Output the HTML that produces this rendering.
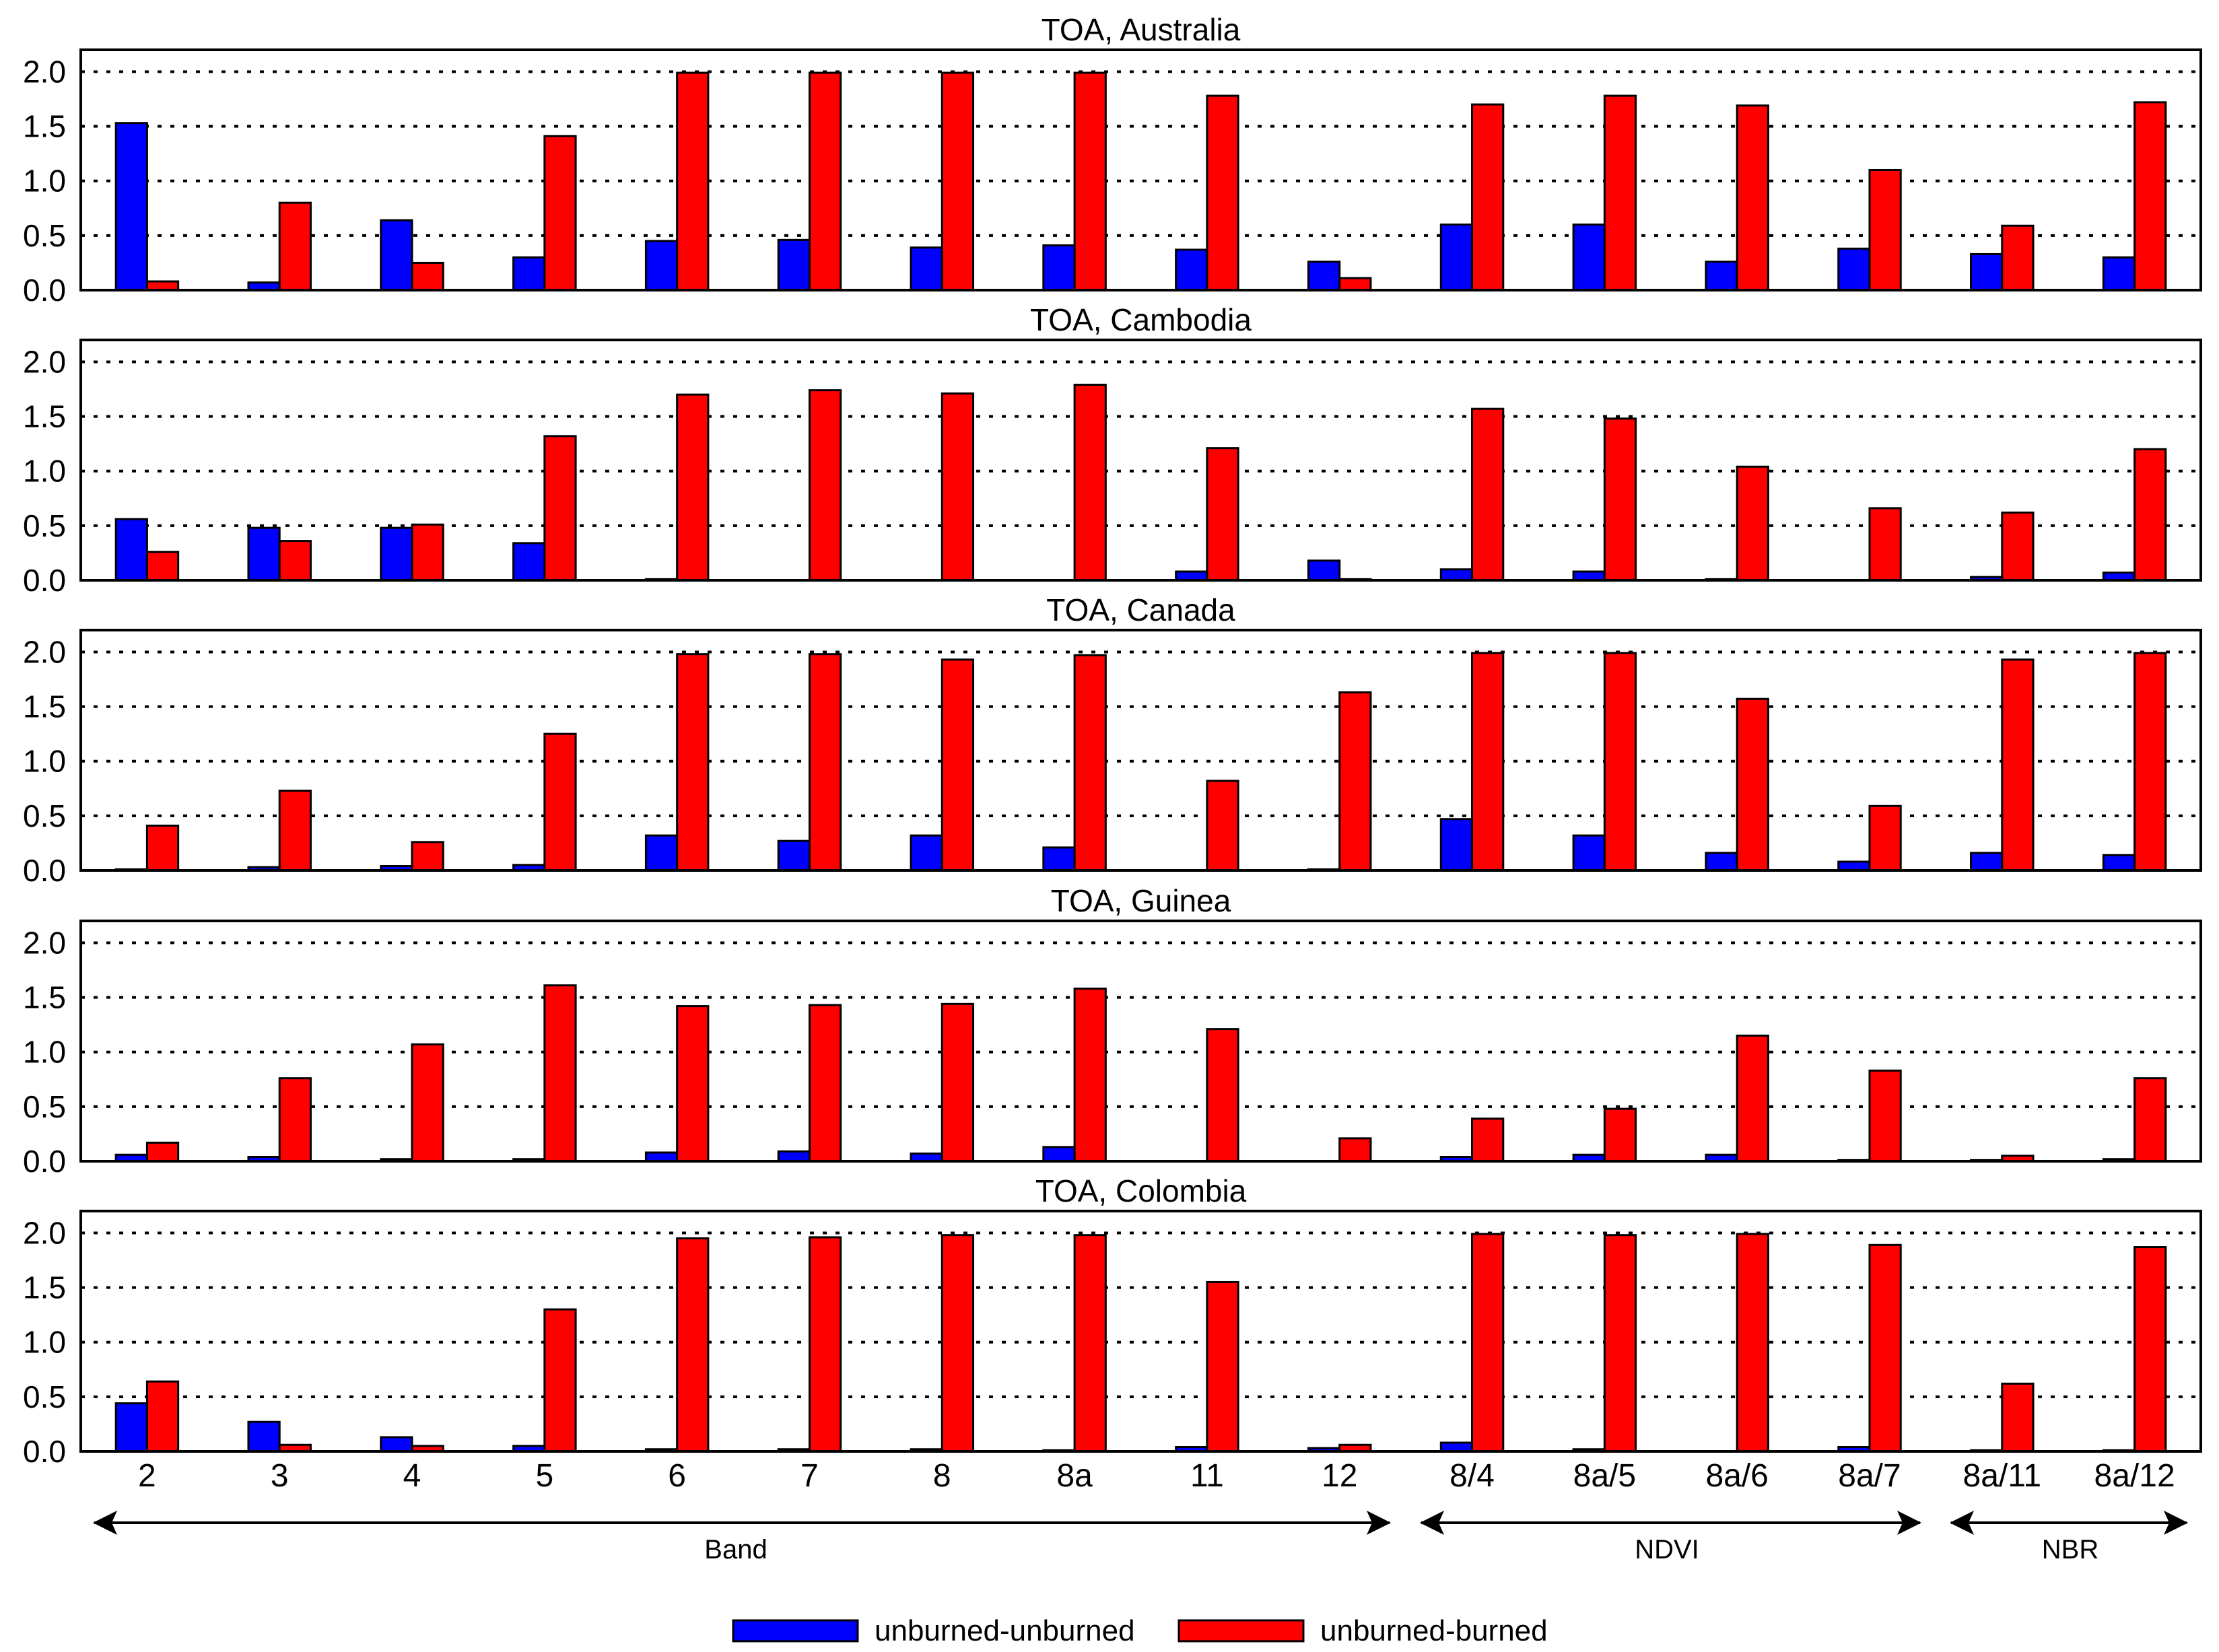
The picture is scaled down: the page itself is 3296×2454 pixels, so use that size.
<!DOCTYPE html>
<html><head><meta charset="utf-8"><style>
html,body{margin:0;padding:0;background:#fff;}
svg{display:block;font-family:"Liberation Sans",sans-serif;}
</style></head><body>
<svg id="chart" width="3296" height="2454" viewBox="0 0 3296 2454" xmlns="http://www.w3.org/2000/svg">
<defs>
<marker id="arr" viewBox="0 0 36 36" refX="34" refY="18" markerWidth="36" markerHeight="36" orient="auto-start-reverse" markerUnits="userSpaceOnUse"><path d="M0,0 L36,18 L0,36 L8,18 Z" fill="#000"/></marker>
</defs>
<g id="panels"></g>
<g id="xlabels"></g>
<g>
<line x1="140" y1="2262" x2="2064" y2="2262" stroke="#000" stroke-width="4" marker-start="url(#arr)" marker-end="url(#arr)"/>
<text x="1093" y="2315" font-size="40" text-anchor="middle">Band</text>
<line x1="2111" y1="2262" x2="2852" y2="2262" stroke="#000" stroke-width="4" marker-start="url(#arr)" marker-end="url(#arr)"/>
<text x="2476" y="2315" font-size="40" text-anchor="middle">NDVI</text>
<line x1="2898" y1="2262" x2="3248" y2="2262" stroke="#000" stroke-width="4" marker-start="url(#arr)" marker-end="url(#arr)"/>
<text x="3075" y="2315" font-size="40" text-anchor="middle">NBR</text>
</g>
<g>
<rect x="1089" y="2407" width="185" height="31" fill="#0000ff" stroke="#000" stroke-width="3"/>
<text x="1299" y="2437" font-size="44">unburned-unburned</text>
<rect x="1751" y="2407" width="185" height="31" fill="#ff0000" stroke="#000" stroke-width="3"/>
<text x="1961" y="2437" font-size="44">unburned-burned</text>
</g>
</svg>
<script>
const categories = ["2","3","4","5","6","7","8","8a","11","12","8/4","8a/5","8a/6","8a/7","8a/11","8a/12"];
const panelTitles = ["TOA, Australia","TOA, Cambodia","TOA, Canada","TOA, Guinea","TOA, Colombia"];
const yTicks = [0,0.5,1.0,1.5,2.0];
const australiaUU = [1.53,0.07,0.64,0.30,0.45,0.46,0.39,0.41,0.37,0.26,0.60,0.60,0.26,0.38,0.33,0.30];
const australiaUB = [0.08,0.80,0.25,1.41,1.99,1.99,1.99,1.99,1.78,0.11,1.70,1.78,1.69,1.10,0.59,1.72];
const cambodiaUU = [0.56,0.48,0.48,0.34,0.01,0.0,0.0,0.0,0.08,0.18,0.10,0.08,0.01,0.0,0.03,0.07];
const cambodiaUB = [0.26,0.36,0.51,1.32,1.70,1.74,1.71,1.79,1.21,0.01,1.57,1.48,1.04,0.66,0.62,1.20];
const canadaUU = [0.01,0.03,0.04,0.05,0.32,0.27,0.32,0.21,0.0,0.01,0.47,0.32,0.16,0.08,0.16,0.14];
const canadaUB = [0.41,0.73,0.26,1.25,1.98,1.98,1.93,1.97,0.82,1.63,1.99,1.99,1.57,0.59,1.93,1.99];
const guineaUU = [0.06,0.04,0.02,0.02,0.08,0.09,0.07,0.13,0.0,0.0,0.04,0.06,0.06,0.01,0.01,0.02];
const guineaUB = [0.17,0.76,1.07,1.61,1.42,1.43,1.44,1.58,1.21,0.21,0.39,0.48,1.15,0.83,0.05,0.76];
const colombiaUU = [0.44,0.27,0.13,0.05,0.02,0.02,0.02,0.01,0.04,0.03,0.08,0.02,0.0,0.04,0.01,0.01];
const colombiaUB = [0.64,0.06,0.05,1.30,1.95,1.96,1.98,1.98,1.55,0.06,1.99,1.98,1.99,1.89,0.62,1.87];
const seriesUU = [australiaUU,cambodiaUU,canadaUU,guineaUU,colombiaUU];
const seriesUB = [australiaUB,cambodiaUB,canadaUB,guineaUB,colombiaUB];

const NS="http://www.w3.org/2000/svg";
const L=120,R=3269,PH=357,YMAX=2.2;
const tops=[74,505,936,1368,1799];
const slot=(R-L)/categories.length, bw=slot*0.235;
function x(i){return L+slot*(i+0.5);}
function mk(tag,attrs,parent){const e=document.createElementNS(NS,tag);for(const k in attrs)e.setAttribute(k,attrs[k]);parent.appendChild(e);return e;}
const panels=document.getElementById('panels');
panelTitles.forEach((t,p)=>{
  const top=tops[p], bot=top+PH;
  const y=v=>bot-v/YMAX*PH;
  const g=mk('g',{},panels);
  
  
  const tt=mk('text',{x:(L+R)/2,y:top-14,'font-size':46,'text-anchor':'middle'},g);
  tt.textContent=t;
  
  
  yTicks.forEach(v=>{
    if(v>0){
      const gl=mk('line',{x1:L,x2:R,y1:y(v),y2:y(v),stroke:'#000','stroke-width':4,'stroke-dasharray':'6 13'},g);
      
      
    }
    const tl=mk('text',{x:98,y:y(v)+16,'font-size':46,'text-anchor':'end'},g);
    tl.textContent=v.toFixed(1);
    
    
  });
  categories.forEach((c,i)=>{
    const b1=mk('rect',{x:x(i)-bw,y:y(seriesUU[p][i]),width:bw,height:Math.max(0,seriesUU[p][i]/YMAX*PH),fill:'#0000ff',stroke:'#000','stroke-width':3},g);
    
    
    const b2=mk('rect',{x:x(i),y:y(seriesUB[p][i]),width:bw,height:Math.max(0,seriesUB[p][i]/YMAX*PH),fill:'#ff0000',stroke:'#000','stroke-width':3},g);
    
    
  });
  const fr=mk('rect',{x:L,y:top,width:R-L,height:PH,fill:'none',stroke:'#000','stroke-width':4},g);
  
  
});
const xl=document.getElementById('xlabels');
categories.forEach((c,i)=>{
  const t=mk('text',{x:x(i),y:2208,'font-size':48,'text-anchor':'middle'},xl);
  t.textContent=c;
  
  
});
</script>
</body></html>
